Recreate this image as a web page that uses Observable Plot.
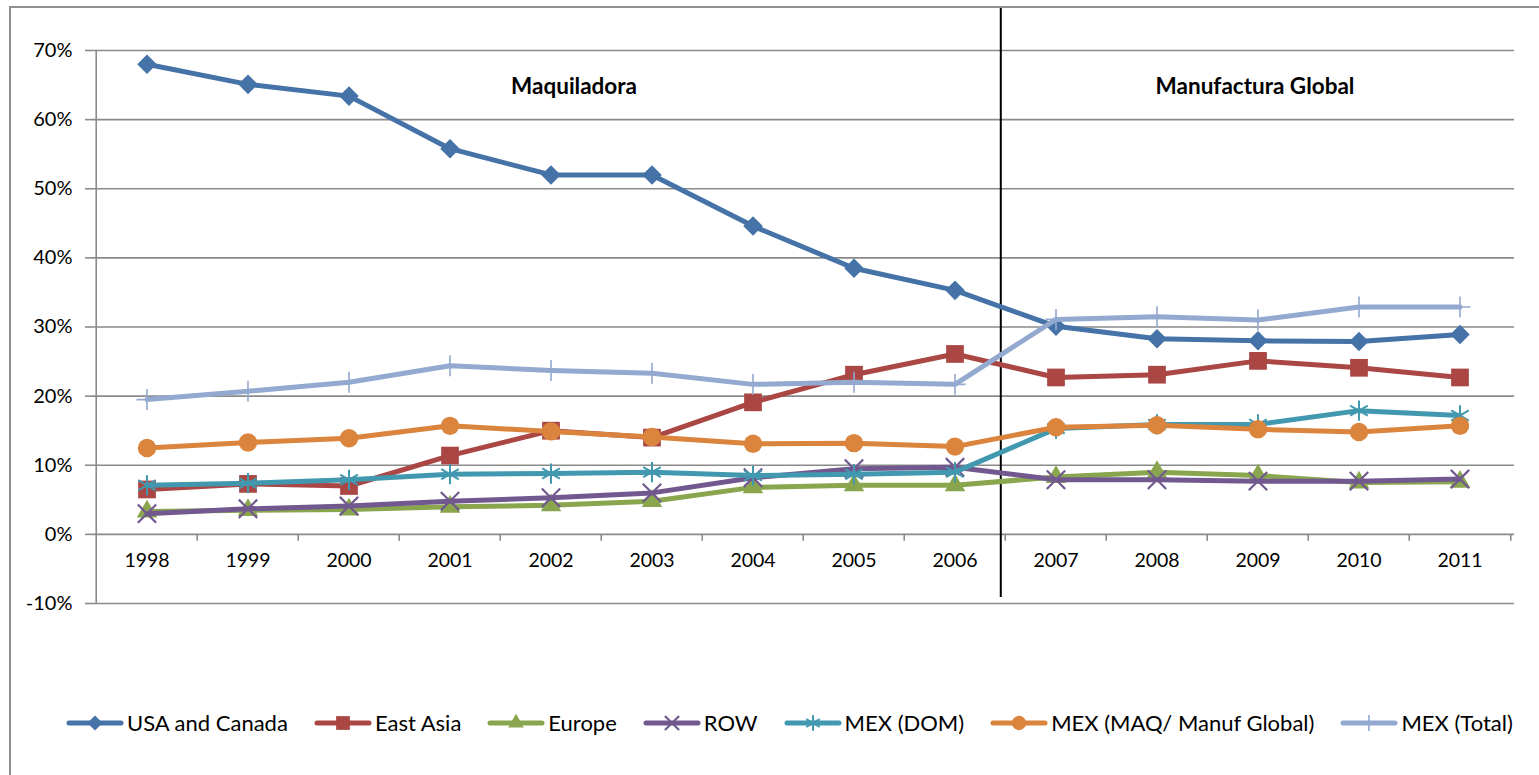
<!DOCTYPE html>
<html>
<head>
<meta charset="utf-8">
<script src="https://cdn.jsdelivr.net/npm/d3@7"></script>
<script src="https://cdn.jsdelivr.net/npm/@observablehq/plot@0.6"></script>
<style>
  html, body { margin: 0; padding: 0; background: #fff; }
  #wrap { position: relative; width: 1539px; height: 775px; overflow: hidden; font-family: Lato, "Open Sans", sans-serif; background: #fff; }
  #border { position: absolute; left: 9px; top: 6px; width: 1540px; height: 800px; border: 2px solid #8e8e8e; box-sizing: border-box; z-index: 2; pointer-events: none; }
  #chart { position: absolute; left: 0; top: 0; z-index: 1; }
  #legend { position: absolute; left: 66px; top: 709px; display: flex; align-items: center; gap: 26px; font-size: 22px; color: #000; z-index: 1; }
  .item { display: flex; align-items: center; gap: 3px; white-space: nowrap; }
  .item svg { display: block; }
</style>
</head>
<body>
<div id="wrap">
  <div id="chart"></div>
  <div id="legend"></div>
  <div id="border"></div>
</div>
<script>
// ---- data ----
const years = ["1998","1999","2000","2001","2002","2003","2004","2005","2006","2007","2008","2009","2010","2011"];
const yTicks = [-10, 0, 10, 20, 30, 40, 50, 60, 70];

const usaCanada = [68.0, 65.1, 63.4, 55.8, 52.0, 52.0, 44.6, 38.5, 35.3, 30.1, 28.3, 28.0, 27.9, 28.9];
const eastAsia  = [6.5, 7.3, 7.0, 11.4, 15.0, 14.0, 19.1, 23.1, 26.1, 22.7, 23.1, 25.1, 24.1, 22.7];
const europe    = [3.3, 3.5, 3.6, 4.0, 4.2, 4.8, 6.8, 7.1, 7.1, 8.3, 9.0, 8.5, 7.5, 7.6];
const row       = [3.0, 3.7, 4.1, 4.8, 5.3, 6.0, 8.2, 9.5, 9.7, 7.9, 7.9, 7.7, 7.7, 8.0];
const mexDom    = [7.1, 7.4, 7.9, 8.7, 8.8, 9.0, 8.5, 8.7, 9.0, 15.3, 15.9, 15.9, 17.9, 17.2];
const mexMaq    = [12.5, 13.3, 13.9, 15.7, 14.9, 14.1, 13.1, 13.2, 12.7, 15.5, 15.8, 15.2, 14.8, 15.7];
const mexTotal  = [19.5, 20.7, 22.0, 24.4, 23.7, 23.3, 21.7, 22.0, 21.7, 31.1, 31.5, 31.0, 32.9, 32.9];

const seriesNames = ["USA and Canada", "East Asia", "Europe", "ROW", "MEX (DOM)", "MEX (MAQ/ Manuf Global)", "MEX (Total)"];
const seriesValues = [usaCanada, eastAsia, europe, row, mexDom, mexMaq, mexTotal];

const sectionLabels = ["Maquiladora", "Manufactura Global"];
const sectionYears = ["2002", "2009"];
const sectionValue = 64.7;
const dividerAfter = "2006";

// ---- styles ----
const seriesColors = ["#4572A7", "#AA4643", "#89A54E", "#71588F", "#4198AF", "#DB843D", "#93A9CF"];
const seriesSymbols = ["diamond2", "square", "triangle", "times", "asterisk", "circle", "plus"];
const seriesR = [8.8, 10, 7.6, 8.4, 9.6, 9.2, 6.8];
const seriesFilled = [true, true, true, false, false, true, false];
const seriesSymStroke = [0, 0, 0, 2.2, 2, 0, 1.6];

const W = 1539, H = 640, ML = 92, MR = 25, MT = 50, MB = 37;
const bw = (W - ML - MR) / years.length;
const grid = "#8a8a8a";

const rows = seriesNames.flatMap((name, i) =>
  years.map((yr, j) => ({series: name, year: yr, value: seriesValues[i][j]})));

const seriesMarks = seriesNames.flatMap((name, i) => {
  const d = rows.filter(r => r.series === name);
  return [
    Plot.line(d, {x: "year", y: "value", stroke: seriesColors[i], strokeWidth: 5, strokeLinejoin: "round", strokeLinecap: "round"}),
    Plot.dot(d, {
      x: "year", y: "value", symbol: seriesSymbols[i], r: seriesR[i],
      fill: seriesFilled[i] ? seriesColors[i] : "none",
      stroke: seriesFilled[i] ? "none" : seriesColors[i],
      strokeWidth: seriesSymStroke[i]
    })
  ];
});

const chart = Plot.plot({
  width: W, height: H,
  marginLeft: ML, marginRight: MR, marginTop: MT, marginBottom: MB,
  style: {fontFamily: "Lato, 'Open Sans', sans-serif", background: "transparent", color: "#000", overflow: "visible"},
  x: {type: "band", domain: years, padding: 0, axis: null},
  y: {domain: [-10, 70], axis: null},
  marks: [
    Plot.ruleY(yTicks, {stroke: grid, strokeWidth: 1.6}),
    Plot.axisY({ticks: yTicks, tickFormat: d => d + "%", tickSize: 7, tickPadding: 13, fontSize: 20, stroke: grid, strokeWidth: 1.6, color: "#000", label: null}),
    Plot.ruleX([years[0]], {x: d => d, dx: -bw / 2, stroke: grid, strokeWidth: 1.6}),
    Plot.ruleX(years.slice(1), {x: d => d, y1: 0, y2: -1, dx: -bw / 2, stroke: grid, strokeWidth: 1.6}),
    Plot.ruleX([years[years.length - 1]], {x: d => d, y1: 0, y2: -1, dx: bw / 2, stroke: grid, strokeWidth: 1.6}),
    Plot.text(years, {x: d => d, y: 0, dy: 26, text: d => d, fontSize: 19.5, fill: "#000"}),
    Plot.ruleX([dividerAfter], {x: d => d, dx: bw / 2 - 5, insetTop: -43, insetBottom: 6, stroke: "#000", strokeWidth: 2}),
    Plot.text([sectionLabels[0]], {x: () => sectionYears[0], y: () => sectionValue, dx: 23, text: d => d, fontSize: 22.5, fontWeight: "bold", fill: "#000"}),
    Plot.text([sectionLabels[1]], {x: () => sectionYears[1], y: () => sectionValue, dx: -3, text: d => d, fontSize: 22.5, fontWeight: "bold", fill: "#000"}),
    ...seriesMarks
  ]
});
document.getElementById("chart").appendChild(chart);

// ---- legend ----
const legend = d3.select("#legend");
const symMap = {diamond2: d3.symbolDiamond2, square: d3.symbolSquare, triangle: d3.symbolTriangle, times: d3.symbolTimes, asterisk: d3.symbolAsterisk, circle: d3.symbolCircle, plus: d3.symbolPlus};
seriesNames.forEach((name, i) => {
  const item = legend.append("div").attr("class", "item");
  const svg = item.append("svg").attr("width", 58).attr("height", 24);
  svg.append("line").attr("x1", 3).attr("x2", 55).attr("y1", 12).attr("y2", 12)
    .attr("stroke", seriesColors[i]).attr("stroke-width", 5).attr("stroke-linecap", "round");
  const size = Math.PI * seriesR[i] * seriesR[i] * 0.6;
  svg.append("path").attr("transform", "translate(29,12)")
    .attr("d", d3.symbol(symMap[seriesSymbols[i]], size)())
    .attr("fill", seriesFilled[i] ? seriesColors[i] : "none")
    .attr("stroke", seriesFilled[i] ? "none" : seriesColors[i])
    .attr("stroke-width", seriesSymStroke[i]);
  item.append("span").text(name);
});
</script>
</body>
</html>
